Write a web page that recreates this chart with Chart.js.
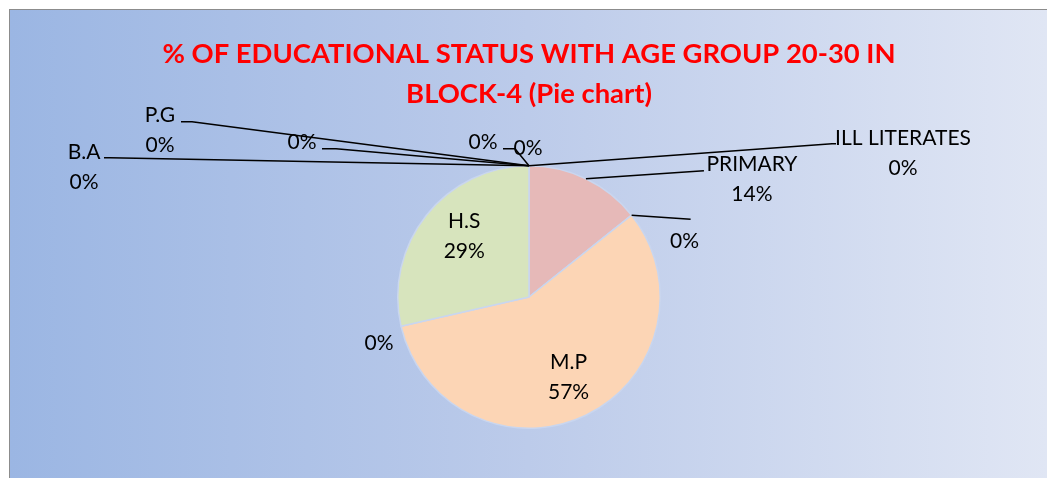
<!DOCTYPE html>
<html><head><meta charset="utf-8">
<script src="https://cdn.jsdelivr.net/npm/chart.js@4/dist/chart.umd.min.js"></script>
<style>html,body{margin:0;padding:0;background:#fff}#wrap{width:1047px;height:478px;position:relative}</style>
</head><body><div id="wrap"><canvas id="c" width="1047" height="478"></canvas></div>
<script>
// ---- data ----
const categories = ["ILL LITERATES","PRIMARY","","M.P","","H.S","B.A","","P.G","",""];
const values = [0,1,0,4,0,2,0,0,0,0,0];
const sliceColors = ["#b9cde5","#e6b9b8","#ccc1da","#fcd5b5","#b7dee8","#d7e4bd","#c4bd97","#8eb4e3","#d99694","#c3d69b","#b3a2c7"];
const titleLines = ["% OF EDUCATIONAL STATUS WITH AGE GROUP 20-30 IN","BLOCK-4 (Pie chart)"];

// label placement relative to anchor (outer point of slice mid-angle, or inside point)
const labelLayout = [
  {f:1, dx:374, dy:-28, leader:[[303,-22],[307,-22]]},
  {f:1, dx:166, dy:-15, leader:[[118,-8]]},
  {f:1, dx:53, dy:26, leader:[[59,4]]},
  {f:0.66, dx:2, dy:-13, leader:null},
  {f:1, dx:-22, dy:17, leader:null},
  {f:0.67, dx:4, dy:-21, leader:null},
  {f:1, dx:-445, dy:-14, leader:[[-419,-8],[-425,-8]]},
  {f:1, dx:-227, dy:-24, leader:[[-193,-17],[-207,-17]]},
  {f:1, dx:-369, dy:-51, leader:[[-337,-44],[-348,-44]]},
  {f:1, dx:-46, dy:-24, leader:[[-14,-17],[-26,-17]]},
  {f:1, dx:-1, dy:-18, leader:null}
];

const total = values.reduce((a,b)=>a+b,0);
const LABEL_FONT = '21px Lato';

const bgPlugin = {
  id:'bg',
  beforeDraw(chart){
    const ctx = chart.ctx, W = chart.width, H = chart.height;
    ctx.save();
    ctx.fillStyle = '#ffffff';
    ctx.fillRect(0,0,W,H);
    const g = ctx.createLinearGradient(10,0,W,0);
    g.addColorStop(0,'#9bb6e3');
    g.addColorStop(0.5,'#bccbea');
    g.addColorStop(1,'#e0e6f4');
    ctx.fillStyle = g;
    ctx.fillRect(10,10,W-10,H-10);
    ctx.strokeStyle = '#8c8c8c';
    ctx.lineWidth = 1;
    ctx.strokeRect(9.5,9.5,W,H);
    ctx.restore();
  }
};

const labelPlugin = {
  id:'pieLabels',
  afterDatasetsDraw(chart){
    const ctx = chart.ctx;
    const meta = chart.getDatasetMeta(0);
    ctx.save();
    ctx.font = LABEL_FONT;
    ctx.fillStyle = '#000';
    ctx.strokeStyle = '#000';
    ctx.lineWidth = 1.5;
    ctx.textAlign = 'center';
    ctx.textBaseline = 'middle';
    meta.data.forEach((arc,i)=>{
      const p = arc.getProps(['x','y','startAngle','endAngle','outerRadius'],true);
      const mid = (p.startAngle+p.endAngle)/2;
      const L = labelLayout[i];
      const ax = p.x + Math.cos(mid)*p.outerRadius*L.f;
      const ay = p.y + Math.sin(mid)*p.outerRadius*L.f;
      if (L.leader){
        ctx.beginPath();
        ctx.moveTo(ax,ay);
        L.leader.forEach(pt=>ctx.lineTo(ax+pt[0],ay+pt[1]));
        ctx.stroke();
      }
      const pct = Math.round(values[i]/total*100)+'%';
      const lines = categories[i] ? [categories[i],pct] : [pct];
      lines.forEach((t,k)=>ctx.fillText(t, ax+L.dx, ay+L.dy+k*30));
    });
    ctx.restore();
  }
};

new Chart(document.getElementById('c'),{
  type:'pie',
  data:{labels:categories,datasets:[{data:values,backgroundColor:sliceColors,borderColor:'#c9d6ef',borderWidth:1.5}]},
  options:{
    responsive:false,
    animation:false,
    devicePixelRatio:1,
    layout:{padding:{top:0,bottom:49,left:100,right:89}},
    plugins:{
      legend:{display:false},
      tooltip:{enabled:false},
      title:{display:true,text:titleLines,color:'#ff0000',font:{family:'Lato',size:27.4,weight:'bold',lineHeight:1.46},padding:{top:34,bottom:51}}
    }
  },
  plugins:[bgPlugin,labelPlugin]
});
</script>
</body></html>
